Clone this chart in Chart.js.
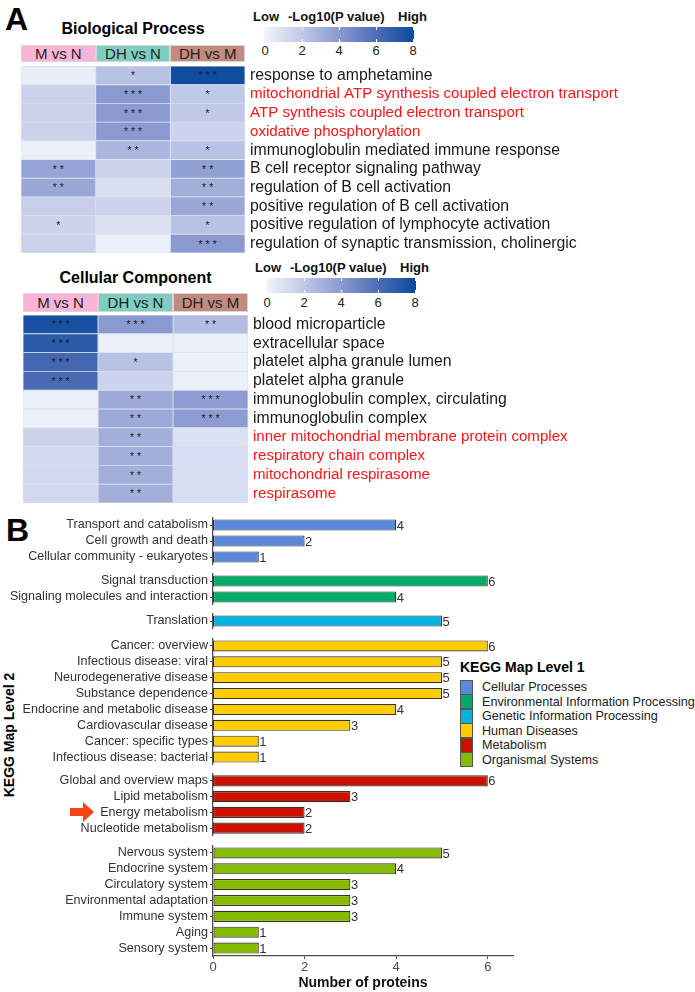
<!DOCTYPE html>
<html>
<head>
<meta charset="utf-8">
<title>GO heatmaps and KEGG level 2</title>
<script src="https://cdn.jsdelivr.net/npm/chart.js@4.4.1/dist/chart.umd.min.js"></script>
<style>
  body { margin: 0; background: #fff; font-family: "Liberation Sans", Arial, sans-serif; color: #111; }
  #page { position: relative; width: 695px; height: 992px; overflow: hidden; }
  .abs { position: absolute; white-space: nowrap; }
  .panel { font-size: 32px; font-weight: bold; line-height: 32px; color: #000; }
  .title { font-size: 16px; font-weight: bold; line-height: 16px; text-align: center; color: #000; }
  .hdr { position: absolute; display: flex; }
  .hdr div { flex: 1; text-align: center; font-size: 15px; color: #222; box-sizing: border-box; border: 1px solid #d6d6d6; }
  .cb-lab { font-size: 13px; font-weight: bold; line-height: 13px; color: #111; }
  .cb-tick { font-size: 13px; line-height: 13px; color: #222; transform: translateX(-50%); }
  .cb-bar { position: absolute; }
  .cb-mark { position: absolute; width: 1px; height: 3px; background: #fff; }
  canvas { position: absolute; }
  #legend { position: absolute; left: 460px; top: 660px; white-space: nowrap; }
  #legend .lt { font-size: 14px; font-weight: bold; line-height: 14px; margin-bottom: 6px; color: #000; }
  #legend .row { display: flex; align-items: center; height: 14.5px; font-size: 12.6px; color: #222; }
  #legend .sw { width: 11px; height: 13px; border: 1px solid #555; margin-right: 9px; flex: none; }
  #ylab { position: absolute; left: -91px; top: 727px; width: 200px; text-align: center; font-size: 14px; font-weight: bold; line-height: 16px; transform: rotate(-90deg); color: #000; }
</style>
</head>
<body>
<div id="page">
  <div class="abs panel" style="left:5px;top:3px">A</div>
  <div class="abs title" style="left:21px;width:224px;top:21px">Biological Process</div>
  <div class="abs title" style="left:23px;width:225px;top:270px">Cellular Component</div>
  <div class="abs panel" style="left:6px;top:514px">B</div>
  <div id="ylab">KEGG Map Level 2</div>
  <svg class="abs" style="left:70px;top:802px" width="25" height="20">
    <polygon points="0,6 13,6 13,0 24,10 13,20 13,14 0,14" fill="#f44219"/>
  </svg>
  <canvas id="bp" width="674" height="187" style="left:21px;top:66px"></canvas>
  <canvas id="cc" width="675" height="188" style="left:23px;top:315px"></canvas>
  <div id="legend"></div>
</div>
<script>
const comparisons = ['M vs N', 'DH vs N', 'DH vs M']
const comparisonColors = ['#f8b5d8', '#7fcdc2', '#c18b7f']

// Biological Process
const bpTerms = ['response to amphetamine', 'mitochondrial ATP synthesis coupled electron transport',
  'ATP synthesis coupled electron transport', 'oxidative phosphorylation',
  'immunoglobulin mediated immune response', 'B cell receptor signaling pathway',
  'regulation of B cell activation', 'positive regulation of B cell activation',
  'positive regulation of lymphocyte activation', 'regulation of synaptic transmission, cholinergic']
const bpRed = [false, true, true, true, false, false, false, false, false, false]
const bpMvsN = [0.3, 1.6, 1.6, 1.6, 0.2, 3.6, 3.4, 1.7, 1.5, 1.6]
const bpDHvsN = [2.3, 4.0, 4.0, 4.0, 2.8, 1.6, 1.0, 1.5, 0.9, 0.2]
const bpDHvsM = [7.8, 2.0, 2.0, 1.5, 2.3, 3.7, 3.1, 3.4, 2.3, 4.0]
const bpStarsMvsN = [0, 0, 0, 0, 0, 2, 2, 0, 1, 0]
const bpStarsDHvsN = [1, 3, 3, 3, 2, 0, 0, 0, 0, 0]
const bpStarsDHvsM = [3, 1, 1, 0, 1, 2, 2, 2, 1, 3]

// Cellular Component
const ccTerms = ['blood microparticle', 'extracellular space', 'platelet alpha granule lumen',
  'platelet alpha granule', 'immunoglobulin complex, circulating', 'immunoglobulin complex',
  'inner mitochondrial membrane protein complex', 'respiratory chain complex',
  'mitochondrial respirasome', 'respirasome']
const ccRed = [false, false, false, false, false, false, true, true, true, true]
const ccMvsN = [7.6, 7.0, 6.3, 6.1, 0.2, 0.2, 1.6, 1.3, 1.3, 1.3]
const ccDHvsN = [4.0, 0.2, 2.3, 1.5, 3.3, 3.3, 3.1, 3.1, 3.1, 3.1]
const ccDHvsM = [2.5, 0.2, 0.2, 0.2, 3.9, 3.9, 0.9, 1.1, 1.1, 1.1]
const ccStarsMvsN = [3, 3, 3, 3, 0, 0, 0, 0, 0, 0]
const ccStarsDHvsN = [3, 0, 1, 0, 2, 2, 2, 2, 2, 2]
const ccStarsDHvsM = [2, 0, 0, 0, 3, 3, 0, 0, 0, 0]

const colorbarTicks = [0, 2, 4, 6, 8]
const heatStops = [[0, [241, 244, 252]], [2, [192, 201, 232]], [4, [138, 154, 209]], [6, [78, 108, 182]], [8, [10, 74, 156]]]

// KEGG level 2 counts, one pair of arrays per level 1 group
const level1 = ['Cellular Processes', 'Environmental Information Processing', 'Genetic Information Processing',
  'Human Diseases', 'Metabolism', 'Organismal Systems']
const level1Colors = ['#5b88d8', '#00aa67', '#00b3e0', '#ffcc00', '#cc1100', '#86bc00']
const cellularLabels = ['Transport and catabolism', 'Cell growth and death', 'Cellular community - eukaryotes']
const cellularCounts = [4, 2, 1]
const envLabels = ['Signal transduction', 'Signaling molecules and interaction']
const envCounts = [6, 4]
const geneticLabels = ['Translation']
const geneticCounts = [5]
const diseaseLabels = ['Cancer: overview', 'Infectious disease: viral', 'Neurodegenerative disease',
  'Substance dependence', 'Endocrine and metabolic disease', 'Cardiovascular disease',
  'Cancer: specific types', 'Infectious disease: bacterial']
const diseaseCounts = [6, 5, 5, 5, 4, 3, 1, 1]
const metabolismLabels = ['Global and overview maps', 'Lipid metabolism', 'Energy metabolism', 'Nucleotide metabolism']
const metabolismCounts = [6, 3, 2, 2]
const organismalLabels = ['Nervous system', 'Endocrine system', 'Circulatory system', 'Environmental adaptation',
  'Immune system', 'Aging', 'Sensory system']
const organismalCounts = [5, 4, 3, 3, 3, 1, 1]
const countTicks = [0, 2, 4, 6]

Chart.defaults.font.family = '"Liberation Sans", Arial, sans-serif'

const page = document.getElementById('page')

function heatColor(v) {
  for (let i = 1; i < heatStops.length; i++) {
    if (v <= heatStops[i][0] || i === heatStops.length - 1) {
      const [v0, c0] = heatStops[i - 1]
      const [v1, c1] = heatStops[i]
      const t = Math.min(1, Math.max(0, (v - v0) / (v1 - v0)))
      return 'rgb(' + c0.map((c, k) => Math.round(c + (c1[k] - c) * t)).join(',') + ')'
    }
  }
}

function addDiv(cls, html, style) {
  const d = document.createElement('div')
  d.className = cls
  d.innerHTML = html
  d.style.cssText = style
  page.append(d)
  return d
}

// no extra room above/below the first and last category
function noEdgePadding(s) {
  s.paddingTop = 0
  s.paddingBottom = 0
}

// header row with comparison names
function header(left, top, width, height) {
  const h = addDiv('hdr', '', `left:${left}px;top:${top}px;width:${width}px;height:${height}px`)
  comparisons.forEach((name, j) => {
    const c = document.createElement('div')
    c.textContent = name
    c.style.background = comparisonColors[j]
    c.style.lineHeight = (height - 2) + 'px'
    h.append(c)
  })
}

// -Log10(P) colour key
function colorbar(left, top, labTop, tickTop) {
  const w = 150, h = 15
  const lo = colorbarTicks[0], hi = colorbarTicks[colorbarTicks.length - 1]
  addDiv('abs cb-lab', 'Low', `left:${left - 11}px;top:${labTop}px`)
  addDiv('abs cb-lab', '-Log10(P value)', `left:${left + 24}px;top:${labTop}px`)
  addDiv('abs cb-lab', 'High', `left:${left + 134}px;top:${labTop}px`)
  const grad = heatStops.map(s => heatColor(s[0]) + ' ' + ((s[0] - lo) / (hi - lo) * 100) + '%').join(',')
  addDiv('cb-bar', '', `left:${left}px;top:${top}px;width:${w}px;height:${h}px;background:linear-gradient(to right,${grad})`)
  colorbarTicks.forEach(v => {
    const x = left + 1 + (v - lo) / (hi - lo) * (w - 2)
    addDiv('cb-mark', '', `left:${x}px;top:${top}px`)
    addDiv('cb-mark', '', `left:${x}px;top:${top + h - 3}px`)
    addDiv('abs cb-tick', String(v), `left:${x}px;top:${tickTop}px`)
  })
}

const starLabels = {
  id: 'stars',
  afterDatasetsDraw(chart) {
    const ctx = chart.ctx
    ctx.save()
    ctx.fillStyle = '#1a1a1a'
    ctx.font = '10.5px "Liberation Sans", Arial, sans-serif'
    ctx.textAlign = 'center'
    ctx.textBaseline = 'middle'
    chart.data.datasets.forEach((ds, j) => {
      chart.getDatasetMeta(j).data.forEach((bar, i) => {
        const n = ds.stars[i]
        if (n) ctx.fillText(Array(n).fill('*').join(' '), (bar.x + bar.base) / 2, bar.y + 1)
      })
    })
    ctx.restore()
  }
}

function heatmap(id, terms, red, cols, stars) {
  new Chart(document.getElementById(id), {
    type: 'bar',
    data: {
      labels: terms,
      datasets: cols.map((vals, j) => ({
        label: comparisons[j],
        data: vals.map(() => 1),
        stars: stars[j],
        backgroundColor: vals.map(heatColor),
        borderColor: '#dde1ea',
        borderWidth: 0.8,
        borderSkipped: false,
        barPercentage: 1,
        categoryPercentage: 1
      }))
    },
    options: {
      indexAxis: 'y',
      responsive: false,
      animation: false,
      layout: { padding: 0 },
      plugins: { legend: { display: false }, tooltip: { enabled: false } },
      scales: {
        x: { stacked: true, display: false, min: 0, max: 3 },
        y: {
          stacked: true,
          position: 'right',
          afterFit: s => { s.width = 450; noEdgePadding(s) },
          grid: { display: false, drawTicks: false },
          border: { display: false },
          ticks: {
            autoSkip: false,
            padding: 5,
            font: c => ({ size: red[c.index] ? 15.1 : 15.8 }),
            color: c => red[c.index] ? '#ff1414' : '#1a1a1a'
          }
        }
      }
    },
    plugins: [starLabels]
  })
}

header(21, 45, 224, 17)
colorbar(264, 27, 10, 44)
heatmap('bp', bpTerms, bpRed, [bpMvsN, bpDHvsN, bpDHvsM], [bpStarsMvsN, bpStarsDHvsN, bpStarsDHvsM])

header(23, 293, 225, 19)
colorbar(266, 278, 261, 296)
heatmap('cc', ccTerms, ccRed, [ccMvsN, ccDHvsN, ccDHvsM], [ccStarsMvsN, ccStarsDHvsN, ccStarsDHvsM])

// ---- panel B: one small chart per level 1 group, like facets ----
const groupLabels = [cellularLabels, envLabels, geneticLabels, diseaseLabels, metabolismLabels, organismalLabels]
const groupCounts = [cellularCounts, envCounts, geneticCounts, diseaseCounts, metabolismCounts, organismalCounts]
const ROW = 15.86
const GAP = 8.5
const FIRST_TOP = 517
const BOTTOM = 992
const X_MAX = 6.55

const countLabels = {
  id: 'counts',
  afterDatasetsDraw(chart) {
    const ctx = chart.ctx
    ctx.save()
    ctx.fillStyle = '#333'
    ctx.font = '13px "Liberation Sans", Arial, sans-serif'
    ctx.textAlign = 'left'
    ctx.textBaseline = 'middle'
    const ds = chart.data.datasets[0]
    chart.getDatasetMeta(0).data.forEach((bar, i) => ctx.fillText(ds.data[i], bar.x + 0.5, bar.y + 1))
    ctx.restore()
  }
}

let rowsBefore = 0
groupLabels.forEach((labels, g) => {
  const last = g === groupLabels.length - 1
  const top = Math.round(FIRST_TOP + rowsBefore * ROW + g * GAP)
  const plotH = Math.round(labels.length * ROW)
  const h = last ? BOTTOM - top : plotH
  rowsBefore += labels.length

  const cv = document.createElement('canvas')
  cv.width = 540
  cv.height = h
  cv.style.left = '0px'
  cv.style.top = top + 'px'
  page.append(cv)

  const axisColor = '#4d4d4d'
  new Chart(cv, {
    type: 'bar',
    data: {
      labels: labels,
      datasets: [{
        label: level1[g],
        data: groupCounts[g],
        backgroundColor: level1Colors[g],
        borderColor: '#333',
        borderWidth: 1.2,
        borderSkipped: false,
        barPercentage: 0.7,
        categoryPercentage: 1
      }]
    },
    options: {
      indexAxis: 'y',
      responsive: false,
      animation: false,
      layout: { padding: { left: 0, right: 27, top: 0, bottom: 0 } },
      plugins: { legend: { display: false }, tooltip: { enabled: false } },
      scales: {
        x: {
          display: last,
          min: 0,
          max: X_MAX,
          afterBuildTicks: s => { s.ticks = countTicks.map(v => ({ value: v })) },
          afterFit: s => { if (last) s.height = h - plotH },
          grid: { drawOnChartArea: false, tickLength: 3, color: axisColor },
          border: { color: axisColor, width: 1.3 },
          ticks: { color: axisColor, font: { size: 13 }, padding: 1, maxRotation: 0, autoSkip: false },
          title: {
            display: true,
            text: 'Number of proteins',
            color: '#111',
            font: { size: 14, weight: 'bold', lineHeight: 1 },
            padding: { top: 0, bottom: 2 }
          }
        },
        y: {
          afterFit: s => { s.width = 213; noEdgePadding(s) },
          grid: { drawOnChartArea: false, offset: false, tickLength: 3, color: axisColor },
          border: { color: axisColor, width: 1.3 },
          ticks: { color: '#333', font: { size: 12.6 }, padding: 2, autoSkip: false }
        }
      }
    },
    plugins: [countLabels]
  })
})

// legend for level 1 colours
const legend = document.getElementById('legend')
legend.innerHTML = '<div class="lt">KEGG Map Level 1</div>' +
  level1.map((name, i) => `<div class="row"><div class="sw" style="background:${level1Colors[i]}"></div>${name}</div>`).join('')
</script>
</body>
</html>
